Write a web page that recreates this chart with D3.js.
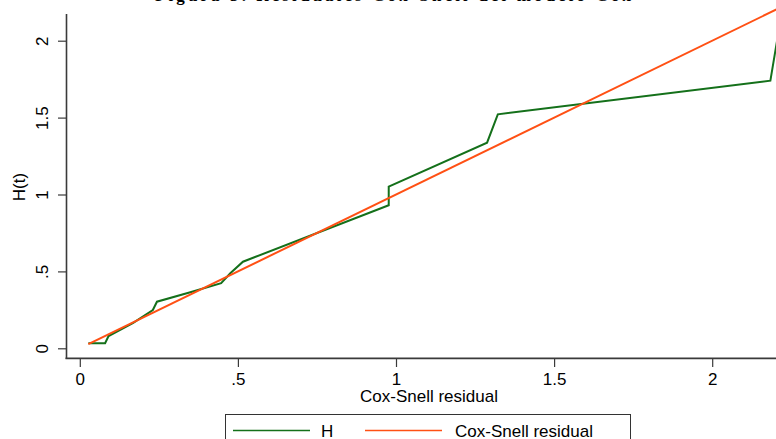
<!DOCTYPE html>
<html>
<head>
<meta charset="utf-8">
<script src="https://cdn.jsdelivr.net/npm/d3@7"></script>
<style>
  html, body { margin: 0; padding: 0; background: #fff; }
  svg { display: block; }
</style>
</head>
<body>
<svg id="chart" width="776" height="439"></svg>
<script>
// Nelson–Aalen cumulative hazard of the Cox-Snell residuals
const residualX = [0.027, 0.080, 0.091, 0.169, 0.231, 0.244, 0.344, 0.447, 0.476, 0.516,
                   0.977, 0.977, 1.288, 1.322, 2.184, 2.210];
const hazardH   = [0.033, 0.033, 0.080, 0.166, 0.249, 0.303, 0.361, 0.423, 0.488, 0.563,
                   0.930, 1.051, 1.337, 1.521, 1.740, 2.060];
// Reference line: the residual against itself
const refX = [0.027, 2.25];
const refY = [0.027, 2.25];

const xTicks = [0, 0.5, 1, 1.5, 2];
const xTickLabels = ["0", ".5", "1", "1.5", "2"];
const yTicks = [0, 0.5, 1, 1.5, 2];
const yTickLabels = ["0", ".5", "1", "1.5", "2"];
const seriesNames = ["H", "Cox-Snell residual"];
const seriesColors = ["#14701a", "#ff5014"];

const svg = d3.select("#chart");
const font = "'Liberation Sans', Arial, sans-serif";
const fs = 17;

const x = d3.scaleLinear().domain([0, 1]).range([79.8, 396.0]);
const y = d3.scaleLinear().domain([0, 2]).range([348.3, 40.7]);

// Title (bold serif), mostly above the top edge
svg.append("text")
  .attr("x", 155).attr("y", 0.8)
  .attr("textLength", 476).attr("lengthAdjust", "spacing")
  .attr("font-family", "'Liberation Serif', 'Times New Roman', serif")
  .attr("font-weight", "bold").attr("font-size", 17)
  .text("Figura 3. Residuales Cox-Snell del modelo Cox");

// Plot area clip
svg.append("defs").append("clipPath").attr("id", "plotClip")
  .append("rect").attr("x", 67).attr("y", 0).attr("width", 720).attr("height", 357);

// Axis lines
const axisColor = "#3a3a3a";
svg.append("line").attr("x1", 66.5).attr("x2", 66.5).attr("y1", 14).attr("y2", 359)
  .attr("stroke", axisColor).attr("stroke-width", 1.6);
svg.append("line").attr("x1", 65.5).attr("x2", 776).attr("y1", 358.3).attr("y2", 358.3)
  .attr("stroke", axisColor).attr("stroke-width", 1.8);

// X axis ticks and labels
const xAxis = d3.axisBottom(x).tickValues(xTicks)
  .tickFormat((d, i) => xTickLabels[i]).tickSize(8).tickPadding(4);
const gx = svg.append("g").attr("transform", "translate(0,359)").call(xAxis);
gx.select(".domain").remove();
gx.selectAll(".tick line").attr("stroke", axisColor).attr("stroke-width", 1.2);
gx.selectAll(".tick text").attr("font-family", font).attr("font-size", fs)
  .attr("fill", "#000").attr("dy", null).attr("y", 26);

// Y axis ticks and labels (rotated)
const yAxis = d3.axisLeft(y).tickValues(yTicks)
  .tickFormat((d, i) => yTickLabels[i]).tickSize(8).tickPadding(0);
const gy = svg.append("g").attr("transform", "translate(66,0)").call(yAxis);
gy.select(".domain").remove();
gy.selectAll(".tick line").attr("stroke", axisColor).attr("stroke-width", 1.2);
gy.selectAll(".tick text").attr("font-family", font).attr("font-size", fs)
  .attr("fill", "#000")
  .attr("x", null).attr("dy", null)
  .attr("text-anchor", "middle")
  .attr("transform", "translate(-18,0) rotate(-90)");

// Axis titles
svg.append("text").attr("x", 429).attr("y", 402)
  .attr("text-anchor", "middle").attr("font-family", font).attr("font-size", fs)
  .text("Cox-Snell residual");
svg.append("text")
  .attr("transform", "translate(25,187) rotate(-90)")
  .attr("text-anchor", "middle").attr("font-family", font).attr("font-size", fs)
  .text("H(t)");

// Series
const plot = svg.append("g").attr("clip-path", "url(#plotClip)");
const line = d3.line().x(d => x(d[0])).y(d => y(d[1]));
plot.append("path")
  .datum(residualX.map((v, i) => [v, hazardH[i]]))
  .attr("d", line).attr("fill", "none")
  .attr("stroke", seriesColors[0]).attr("stroke-width", 2).attr("stroke-linejoin", "miter");
plot.append("path")
  .datum(refX.map((v, i) => [v, refY[i]]))
  .attr("d", line).attr("fill", "none")
  .attr("stroke", seriesColors[1]).attr("stroke-width", 2);

// Legend
const lg = svg.append("g");
lg.append("rect").attr("x", 225.5).attr("y", 414.5).attr("width", 405).attr("height", 40)
  .attr("fill", "#fff").attr("stroke", "#333").attr("stroke-width", 1);
const legendItems = [
  { lx1: 233, lx2: 310, tx: 321 },
  { lx1: 365, lx2: 442, tx: 455 }
];
legendItems.forEach((it, i) => {
  lg.append("line").attr("x1", it.lx1).attr("x2", it.lx2).attr("y1", 430.5).attr("y2", 430.5)
    .attr("stroke", seriesColors[i]).attr("stroke-width", 1.6);
  lg.append("text").attr("x", it.tx).attr("y", 437)
    .attr("font-family", font).attr("font-size", fs).text(seriesNames[i]);
});
</script>
</body>
</html>
